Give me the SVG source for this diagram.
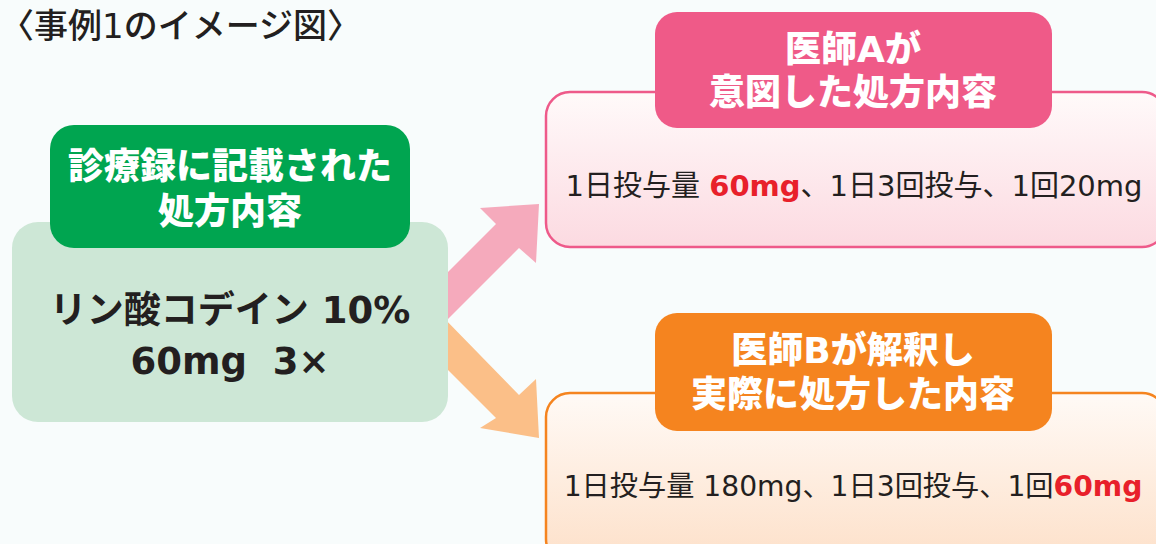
<svg xmlns="http://www.w3.org/2000/svg" width="1156" height="544" viewBox="0 0 1156 544">
<defs>
<linearGradient id="gPink" x1="0" y1="0" x2="0" y2="1">
<stop offset="0" stop-color="#fffafa"/>
<stop offset="1" stop-color="#fcdae1"/>
</linearGradient>
<linearGradient id="gOrange" x1="0" y1="0" x2="0" y2="1">
<stop offset="0" stop-color="#fffaf6"/>
<stop offset="1" stop-color="#fde0c9"/>
</linearGradient>
<style>
text{font-family:"DejaVu Sans","Noto Sans CJK JP",sans-serif;}
.head{font-size:36px;font-weight:900;fill:#ffffff;text-anchor:middle;}
.main{font-size:37px;font-weight:700;fill:#231f20;text-anchor:middle;}
.body{font-size:29px;font-weight:400;fill:#231f20;text-anchor:middle;}
.red{fill:#e8202a;font-weight:700;}
.title{font-size:34px;font-weight:500;fill:#231f20;}
</style>
</defs>
<rect width="1156" height="544" fill="#f8fcfc"/>
<text class="title" x="0" y="38">〈事例1のイメージ図〉</text>

<g id="connectors">
<polygon points="440,280 496,224 480,208 539,204 536,263 519,248 440,327" fill="#f5aabc"/>
<polygon points="440,314 519,395 536,379 539,438 480,428 496,418 440,362" fill="#fbbf88"/>
</g>

<g id="node-record">
<rect x="12" y="222" width="436" height="200" rx="26" fill="#cde7d6"/>
<rect x="50" y="125" width="360" height="123" rx="24" fill="#00a550"/>
<text class="head" x="230" y="179">診療録に記載された</text>
<text class="head" x="230" y="224">処方内容</text>
<text class="main" x="230" y="323">リン酸コデイン 10%</text>
<text class="main" x="230" y="374" xml:space="preserve">60mg  3×</text>
</g>

<g id="node-doctorA">
<rect x="546" y="92" width="620" height="155" rx="24" fill="url(#gPink)" stroke="#ee5a8a" stroke-width="2.5"/>
<rect x="655" y="12" width="397" height="116" rx="22" fill="#ef5a88"/>
<text class="head" x="853" y="62">医師Aが</text>
<text class="head" x="853" y="105">意図した処方内容</text>
<text class="body" x="854" y="196">1日投与量 <tspan class="red">60mg</tspan>、1日3回投与、1回20mg</text>
</g>

<g id="node-doctorB">
<rect x="546" y="393" width="620" height="170" rx="24" fill="url(#gOrange)" stroke="#f5841f" stroke-width="2.5"/>
<rect x="655" y="313" width="397" height="118" rx="22" fill="#f5841f"/>
<text class="head" x="853" y="363">医師Bが解釈し</text>
<text class="head" x="853" y="407">実際に処方した内容</text>
<text class="body" x="853" y="496" font-size="28.2" style="font-size:28.2px">1日投与量 180mg、1日3回投与、1回<tspan class="red">60mg</tspan></text>
</g>
</svg>
